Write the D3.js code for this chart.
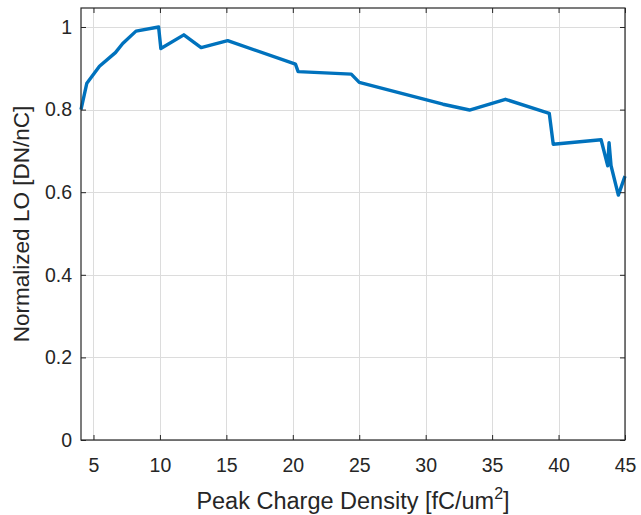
<!DOCTYPE html>
<html>
<head>
<meta charset="utf-8">
<script src="https://cdn.jsdelivr.net/npm/d3@7"></script>
<style>
    body { margin: 0; background: #fff; }
    svg text { font-family: "Liberation Sans", Arial, sans-serif; fill: #262626; }
</style>
</head>
<body>
<div id="chart"></div>
<script>
// values
var density = [4.06, 4.5, 5.45, 6.65, 7.2, 8.2, 9.9, 10.07, 11.8, 13.1, 15.1, 20.2, 20.4,
    24.4, 25.0, 31.3, 33.3, 36.0, 39.3, 39.6, 43.2, 43.7, 43.8, 43.95, 44.5, 45.0];
var lightOutput = [0.80, 0.864, 0.905, 0.938, 0.960, 0.990, 1.0, 0.948, 0.981, 0.950, 0.967, 0.910, 0.892,
    0.886, 0.866, 0.813, 0.799, 0.825, 0.791, 0.716, 0.727, 0.664, 0.72, 0.664, 0.593, 0.639];
var xTicks = [5, 10, 15, 20, 25, 30, 35, 40, 45];
var yTicks = [0, 0.2, 0.4, 0.6, 0.8, 1];

var W = 641, H = 515;
var m = { top: 8, right: 16, bottom: 75, left: 81 };

var svg = d3.select("#chart")
    .append("svg")
    .attr("width", W)
    .attr("height", H);

var x = d3.scaleLinear()
    .domain([4.06, 45])
    .range([m.left, W - m.right]);
var y = d3.scaleLinear()
    .domain([0, 1.046])
    .range([H - m.bottom, m.top]);

var x0 = x.range()[0], x1 = x.range()[1];
var y0 = y.range()[0], y1 = y.range()[1];

// grid
var grid = svg.append("g").attr("stroke", "#dcdcdc").attr("stroke-width", 1);
grid.selectAll(".vx")
    .data(xTicks)
    .enter()
    .append("line")
    .attr("x1", function(d) { return Math.round(x(d)) + 0.5; })
    .attr("x2", function(d) { return Math.round(x(d)) + 0.5; })
    .attr("y1", y1)
    .attr("y2", y0);
grid.selectAll(".hy")
    .data(yTicks)
    .enter()
    .append("line")
    .attr("y1", function(d) { return Math.round(y(d)) + 0.5; })
    .attr("y2", function(d) { return Math.round(y(d)) + 0.5; })
    .attr("x1", x0)
    .attr("x2", x1);

// data line
var line = d3.line()
    .x(function(d, i) { return x(density[i]); })
    .y(function(d) { return y(d); });
svg.append("path")
    .datum(lightOutput)
    .attr("fill", "none")
    .attr("stroke", "#0072BD")
    .attr("stroke-width", 3.4)
    .attr("stroke-linejoin", "round")
    .attr("d", line);

// axes (MATLAB style: inward ticks, box on)
function styleAxis(g) {
    g.select(".domain").remove();
    g.selectAll(".tick line").attr("stroke", "#262626");
    g.selectAll(".tick text").attr("fill", "#3a3a3a");
}

var tickFont = 19.5;
svg.append("g")
    .attr("transform", "translate(0," + y0 + ")")
    .call(d3.axisBottom(x).tickValues(xTicks).tickSize(-5).tickPadding(18).tickFormat(d3.format("d")))
    .call(styleAxis)
    .attr("font-size", tickFont)
    .attr("font-family", null);
svg.append("g")
    .attr("transform", "translate(0," + y1 + ")")
    .call(d3.axisTop(x).tickValues(xTicks).tickSize(-5).tickFormat(""))
    .call(styleAxis);
svg.append("g")
    .attr("transform", "translate(" + x0 + ",0)")
    .call(d3.axisLeft(y).tickValues(yTicks).tickSize(-5).tickPadding(9).tickFormat(d3.format("")))
    .call(styleAxis)
    .attr("font-size", tickFont)
    .attr("font-family", null);
svg.append("g")
    .attr("transform", "translate(" + x1 + ",0)")
    .call(d3.axisRight(y).tickValues(yTicks).tickSize(-5).tickFormat(""))
    .call(styleAxis);

svg.append("rect")
    .attr("x", x0)
    .attr("y", y1)
    .attr("width", x1 - x0)
    .attr("height", y0 - y1)
    .attr("fill", "none")
    .attr("stroke", "#262626")
    .attr("stroke-width", 1.2);

// labels
var xLabel = svg.append("text")
    .attr("x", (x0 + x1) / 2)
    .attr("y", 509)
    .attr("text-anchor", "middle")
    .attr("font-size", 23.5);
xLabel.append("tspan").text("Peak Charge Density [fC/um");
xLabel.append("tspan").attr("dy", -10).attr("font-size", 16).text("2");
xLabel.append("tspan").attr("dy", 10).text("]");

svg.append("text")
    .attr("transform", "translate(29," + ((y0 + y1) / 2) + ") rotate(-90)")
    .attr("text-anchor", "middle")
    .attr("font-size", 22.5)
    .text("Normalized LO [DN/nC]");
</script>
</body>
</html>
